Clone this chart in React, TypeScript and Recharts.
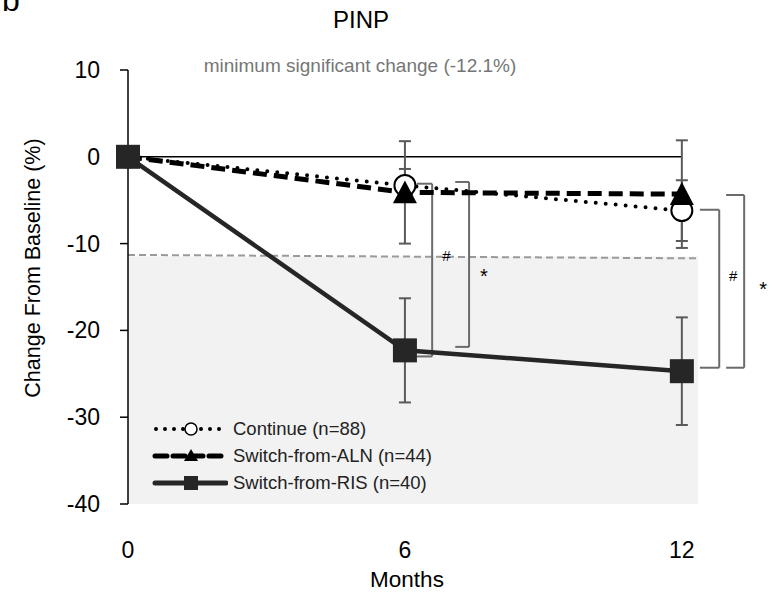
import React from 'react';
import { LineChart, Line, XAxis, YAxis, ErrorBar, ReferenceLine, ReferenceArea, ReferenceDot } from 'recharts';

const months = [0, 6, 12];
const continueMean = [0, -3.3, -6.2];
const continueErr = [0, 1.9, 3.5];
const alnMean = [0, -4.1, -4.3];
const alnErr = [0, 5.9, 6.2];
const risMean = [0, -22.3, -24.7];
const risErr = [0, 6.0, 6.2];

const yTicks = [10, 0, -10, -20, -30, -40];
const xTicks = [0, 6, 12];
const xDomainMax = 12.35;

const seriesNames = ['Continue (n=88)', 'Switch-from-ALN (n=44)', 'Switch-from-RIS (n=40)'];

const minChangeStart = -11.3;
const minChangeEnd = -11.7;
const minChangeText = 'minimum significant change (-12.1%)';

// significance brackets
const bracketArmStart = [6.26, 7.09, 12.39, 12.96];
const bracketSpine = [6.59, 7.39, 12.81, 13.35];
const bracketTop = [-3.1, -2.9, -6.1, -4.4];
const bracketBottom = [-23.0, -21.9, -24.3, -24.3];
const bracketLabels = ['#', '*', '#', '*'];
const bracketLabelX = [6.9, 7.71, 13.11, 13.76];
const bracketLabelY = [-11.4, -13.7, -13.7, -15.2];

const data = months.map((m, i) => ({
  month: m,
  cont: continueMean[i],
  contErr: continueErr[i],
  aln: alnMean[i],
  alnErr: alnErr[i],
  ris: risMean[i],
  risErr: risErr[i],
}));

const FONT = '"Liberation Sans", Arial, sans-serif';
const ERR_COLOR = '#5a5a5a';
const BRACKET_COLOR = '#6b6b6b';

const CircleDot = (props: any) => {
  const { cx, cy } = props;
  if (cx == null || cy == null) return null;
  return <circle cx={cx} cy={cy} r={10.5} fill="#fff" stroke="#000" strokeWidth={2} />;
};
const TriangleDot = (props: any) => {
  const { cx, cy } = props;
  if (cx == null || cy == null) return null;
  const s = 12;
  return <polygon points={`${cx},${cy - s} ${cx + s},${cy + s * 0.9} ${cx - s},${cy + s * 0.9}`} fill="#000" />;
};
const SquareDot = (props: any) => {
  const { cx, cy } = props;
  if (cx == null || cy == null) return null;
  const s = 12;
  return <rect x={cx - s} y={cy - s} width={2 * s} height={2 * s} fill="#262626" />;
};

const YTick = (props: any) => {
  const { x, y, payload } = props;
  return (
    <text x={x} y={y} dy={8} textAnchor="end" fontSize={23} fontFamily={FONT} fill="#000">
      {payload.value}
    </text>
  );
};
const XTick = (props: any) => {
  const { x, y, payload } = props;
  return (
    <text x={x} y={y + 54} textAnchor="middle" fontSize={23} fontFamily={FONT} fill="#000">
      {payload.value}
    </text>
  );
};

const LegendBox = () => {
  const rowStyle: React.CSSProperties = { display: 'flex', alignItems: 'center', height: 27 };
  const textStyle: React.CSSProperties = { fontFamily: FONT, fontSize: 18.5, color: '#222', marginLeft: 5, whiteSpace: 'nowrap' };
  return (
    <div style={{ position: 'absolute', left: 152, top: 415 }}>
      <div style={rowStyle}>
        <svg width={76} height={24}>
          <line x1={4} y1={12} x2={74} y2={12} stroke="#000" strokeWidth={4} strokeDasharray="0 9" strokeLinecap="round" />
          <circle cx={39} cy={12} r={6} fill="#fff" stroke="#000" strokeWidth={1.5} />
        </svg>
        <span style={textStyle}>{seriesNames[0]}</span>
      </div>
      <div style={rowStyle}>
        <svg width={76} height={24}>
          <line x1={3} y1={12} x2={74} y2={12} stroke="#000" strokeWidth={5} strokeDasharray="12 6" strokeLinecap="round" />
          <polygon points="39,5 46,17 32,17" fill="#000" />
        </svg>
        <span style={textStyle}>{seriesNames[1]}</span>
      </div>
      <div style={rowStyle}>
        <svg width={76} height={24}>
          <line x1={3} y1={12} x2={74} y2={12} stroke="#262626" strokeWidth={5} strokeLinecap="round" />
          <rect x={32} y={5} width={14} height={14} fill="#262626" />
        </svg>
        <span style={textStyle}>{seriesNames[2]}</span>
      </div>
    </div>
  );
};

export default function App() {
  return (
    <div style={{ position: 'absolute', left: 0, top: 0, width: 777, height: 596, background: '#fff' }}>
      <LineChart width={777} height={596} data={data} margin={{ top: 70, right: 79, bottom: 0, left: 68 }}>
        <ReferenceArea x1={0} x2={xDomainMax} y1={-40} y2={(minChangeStart + minChangeEnd) / 2} fill="#f2f2f2" fillOpacity={1} stroke="none" ifOverflow="visible" />
        <ReferenceLine segment={[{ x: 0, y: minChangeStart }, { x: xDomainMax, y: minChangeEnd }]} stroke="#9a9a9a" strokeWidth={2} strokeDasharray="7 4" ifOverflow="visible" />
        <ReferenceLine segment={[{ x: 0, y: 0 }, { x: 12, y: 0 }]} stroke="#000" strokeWidth={1.5} ifOverflow="visible" />
        <XAxis
          dataKey="month"
          type="number"
          domain={[0, xDomainMax]}
          ticks={xTicks}
          axisLine={false}
          tickLine={false}
          tickSize={0}
          tickMargin={0}
          height={92}
          tick={<XTick />}
        />
        <YAxis
          type="number"
          domain={[-40, 10]}
          ticks={yTicks}
          width={60}
          axisLine={{ stroke: '#000', strokeWidth: 1.5 }}
          tickLine={{ stroke: '#000', strokeWidth: 1.5 }}
          tickSize={8}
          tickMargin={20}
          tick={<YTick />}
        />
        {bracketLabels.map((_, i) => (
          <ReferenceLine key={`bs${i}`} segment={[{ x: bracketSpine[i], y: bracketTop[i] }, { x: bracketSpine[i], y: bracketBottom[i] }]} stroke={BRACKET_COLOR} strokeWidth={2} ifOverflow="visible" />
        ))}
        {bracketLabels.map((_, i) => (
          <ReferenceLine key={`bt${i}`} segment={[{ x: bracketArmStart[i], y: bracketTop[i] }, { x: bracketSpine[i], y: bracketTop[i] }]} stroke={BRACKET_COLOR} strokeWidth={2} ifOverflow="visible" />
        ))}
        {bracketLabels.map((_, i) => (
          <ReferenceLine key={`bb${i}`} segment={[{ x: bracketArmStart[i], y: bracketBottom[i] }, { x: bracketSpine[i], y: bracketBottom[i] }]} stroke={BRACKET_COLOR} strokeWidth={2} ifOverflow="visible" />
        ))}
        {bracketLabels.map((lab, i) => (
          <ReferenceDot key={`bl${i}`} x={bracketLabelX[i]} y={bracketLabelY[i]} r={0} fill="none" stroke="none" ifOverflow="visible"
            label={{ value: lab, position: 'center', fontSize: lab === '*' ? 20 : 15, fontFamily: FONT, fill: '#000' }} />
        ))}
        <Line dataKey="cont" stroke="#000" strokeWidth={4} strokeDasharray="0 10" strokeLinecap="round" dot={<CircleDot />} isAnimationActive={false} legendType="none">
          <ErrorBar dataKey="contErr" width={6} stroke={ERR_COLOR} strokeWidth={2} direction="y" />
        </Line>
        <Line dataKey="aln" stroke="#000" strokeWidth={5} strokeDasharray="14 7" dot={<TriangleDot />} isAnimationActive={false} legendType="none">
          <ErrorBar dataKey="alnErr" width={6} stroke={ERR_COLOR} strokeWidth={2} direction="y" />
        </Line>
        <Line dataKey="ris" stroke="#262626" strokeWidth={4.5} dot={<SquareDot />} isAnimationActive={false} legendType="none">
          <ErrorBar dataKey="risErr" width={6} stroke={ERR_COLOR} strokeWidth={2} direction="y" />
        </Line>
      </LineChart>
      <LegendBox />
      <svg width={777} height={596} style={{ position: 'absolute', left: 0, top: 0, pointerEvents: 'none' }}>
        <text x={2} y={11} fontSize={32} fontFamily={FONT} fill="#000">b</text>
        <text x={361} y={28} textAnchor="middle" fontSize={24} fontFamily={FONT} fill="#000">PINP</text>
        <text x={360} y={72} textAnchor="middle" fontSize={19} fontFamily={FONT} fill="#767676">{minChangeText}</text>
        <text transform="translate(40,268) rotate(-90)" textAnchor="middle" fontSize={21.5} fontFamily={FONT} fill="#000">Change From Baseline (%)</text>
        <text x={407} y={587} textAnchor="middle" fontSize={22.5} fontFamily={FONT} fill="#000">Months</text>
      </svg>
    </div>
  );
}
